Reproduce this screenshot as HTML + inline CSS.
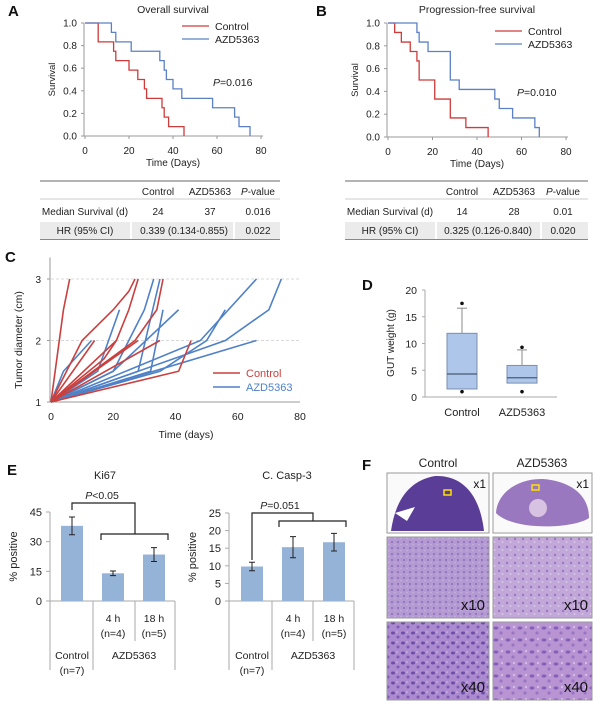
<!DOCTYPE html>
<html><head><meta charset="utf-8"><style>
html,body{margin:0;padding:0;background:#fff}
svg{display:block;font-family:"Liberation Sans",sans-serif}
</style></head><body>
<svg id="fig" width="600" height="711" viewBox="0 0 600 711" xmlns="http://www.w3.org/2000/svg">
<defs>
<pattern id="tex10a" width="6" height="6" patternUnits="userSpaceOnUse"><rect width="6" height="6" fill="#b49ad2"/><circle cx="2" cy="2" r="1" fill="#8e6cbb"/><circle cx="5" cy="4.5" r="0.8" fill="#c9b4e0"/></pattern>
<pattern id="tex10b" width="8" height="8" patternUnits="userSpaceOnUse"><rect width="8" height="8" fill="#c2a8d9"/><circle cx="3" cy="3" r="1.2" fill="#9a78c2"/><circle cx="6.5" cy="6" r="0.9" fill="#dccbea"/></pattern>
<pattern id="tex40a" width="10" height="10" patternUnits="userSpaceOnUse"><rect width="10" height="10" fill="#ab8ad0"/><ellipse cx="3" cy="3" rx="2" ry="1.5" fill="#6c4ea8"/><circle cx="8" cy="7" r="1.5" fill="#7b5cb2"/><circle cx="7" cy="2" r="0.8" fill="#d3c0e8"/></pattern>
<pattern id="tex40b" width="12" height="12" patternUnits="userSpaceOnUse"><rect width="12" height="12" fill="#b895d2"/><ellipse cx="4" cy="4" rx="2.5" ry="1.6" fill="#8660b8"/><circle cx="9" cy="9" r="1.6" fill="#9a74c4"/><circle cx="10" cy="3" r="1" fill="#dcc8ec"/></pattern>
</defs>
<g id="root"></g>
</svg>
<script>
// ---------- Data ----------
const kmA_control = [[6,0.833],[13,0.75],[14,0.667],[20,0.583],[24,0.5],[27,0.417],[28,0.333],[35,0.25],[36,0.167],[38,0.083],[45,0]];
const kmA_azd = [[12,0.917],[14,0.833],[21,0.75],[34,0.667],[36,0.583],[37,0.5],[40,0.417],[44,0.333],[58,0.25],[68,0.167],[70,0.083],[75,0]];
const kmB_control = [[3,0.917],[6,0.833],[10,0.75],[13,0.667],[14,0.5],[21,0.333],[28,0.167],[35,0.083],[45,0]];
const kmB_azd = [[13,0.917],[14,0.833],[18,0.75],[28,0.5],[32,0.417],[48,0.333],[50,0.25],[56,0.167],[66,0.083],[68,0]];
const kmXTicks = [0,20,40,60,80];
const kmYTicks = [0,0.2,0.4,0.6,0.8,1.0];
const tableA = [["Median Survival (d)","24","37","0.016"],["HR (95% CI)","0.339 (0.134-0.855)","","0.022"]];
const tableB = [["Median Survival (d)","14","28","0.01"],["HR (95% CI)","0.325 (0.126-0.840)","","0.020"]];

const growthControl = [
 [[0,1],[4,2.5],[6,3]],
 [[0,1],[10,2],[20,2.5],[25,2.8],[27,3]],
 [[0,1],[21,2],[25,2.5],[28,3]],
 [[0,1],[27,2],[34,2.5],[36,3]],
 [[0,1],[14,2]],
 [[0,1],[17,1.7],[21,2]],
 [[0,1],[35,2]],
 [[0,1],[41,1.5],[45,2]],
 [[0,1],[28,2]]
];
const growthAzd = [
 [[0,1],[4,1.5],[13,2]],
 [[0,1],[15,1.5],[22,2.5]],
 [[0,1],[20,1.5],[30,2.5],[33,3]],
 [[0,1],[28,1.5],[35,3]],
 [[0,1],[32,1.5],[36,2.5]],
 [[0,1],[20,1.5],[41,2.5]],
 [[0,1],[35,1.5],[50,2],[56,2.5]],
 [[0,1],[48,2],[66,3]],
 [[0,1],[56,2],[70,2.5],[74,3]],
 [[0,1],[66,2]]
];
const growthXTicks = [0,20,40,60,80];
const growthYTicks = [1,2,3];

const boxCategories = ["Control","AZD5363"];
const boxLowWhisker = [1.5,2.6];
const boxQ1 = [1.5,2.6];
const boxMedian = [4.3,3.6];
const boxQ3 = [11.9,5.9];
const boxHighWhisker = [16.6,8.8];
const boxOutliers = [[17.5,1.0],[9.3,1.0]];
const boxYTicks = [0,5,10,15,20];

const barGroups = ["Control","4 h","18 h"];
const ki67Values = [38,14,23.5];
const ki67Err = [4.5,1.2,3.5];
const ki67Ticks = [0,15,30,45];
const caspValues = [9.8,15.3,16.7];
const caspErr = [1.2,3.0,2.5];
const caspTicks = [0,5,10,15,20,25];

// ---------- Helpers ----------
const NS="http://www.w3.org/2000/svg";
const root=document.getElementById('root');
function mk(tag,attrs,parent){const e=document.createElementNS(NS,tag);for(const k in attrs)e.setAttribute(k,attrs[k]);(parent||root).appendChild(e);return e;}
function txt(x,y,s,size,anchor,parent,extra){const e=mk('text',Object.assign({x:x,y:y,'font-size':size||10,'text-anchor':anchor||'middle',fill:'#222'},extra||{}),parent);e.textContent=s;return e;}
function grp(name){const g=mk('g',{});return g;}
const RED="#cf3a3a",BLUE="#5b80c6",BAR="#95b3d7";

// ---------- KM panel ----------
function kmPanel(letter,title,x0,x1,yTop,yBot,ctrl,azd,pval,legX,legY,pX,pY,table,tX0,tX1,cols,name){
 const g=grp(name);
 const sx=v=>x0+(x1-x0)*v/80, sy=v=>yBot-(yBot-yTop)*v;
 const L=mk('text',{x:letter==='A'?8:316,y:16,'font-size':15,'font-weight':'bold',fill:'#111'},g);L.textContent=letter;
 
 const t=txt((x0+x1)/2,13,title,10.5,'middle',g);
 const ax=mk('path',{d:`M${x0-1},${yTop}V${yBot}H${x1+2}`,stroke:'#999',fill:'none','stroke-width':1},g);
 
 kmYTicks.forEach(v=>{mk('line',{x1:x0-4,x2:x0-1,y1:sy(v),y2:sy(v),stroke:'#999'},g);
  const e=txt(x0-8,sy(v)+3.5,v.toFixed(1),10,'end',g);});
 kmXTicks.forEach(v=>{mk('line',{x1:sx(v),x2:sx(v),y1:yBot,y2:yBot+3,stroke:'#999'},g);
  const e=txt(sx(v),yBot+18,String(v),10,'middle',g);});
 const xt=txt((x0+x1)/2,yBot+30,'Time (Days)',10,'middle',g);
 const yt=txt(0,0,'Survival',9.5,'middle',g,{transform:`translate(${x0-30},${(yTop+yBot)/2}) rotate(-90)`});
 function step(data,color,nm){let d=`M${sx(0)},${sy(1)}`;data.forEach(p=>{d+=`H${sx(p[0])}V${sy(p[1])}`;});
  const p=mk('path',{d:d,stroke:color,fill:'none','stroke-width':1.3},g);}
 step(ctrl,RED,'control-curve');step(azd,BLUE,'azd5363-curve');
 [["Control",RED],["AZD5363",BLUE]].forEach((it,i)=>{const lg=mk('g',{},g);
  mk('line',{x1:legX,x2:legX+27,y1:legY+i*13,y2:legY+i*13,stroke:it[1],'stroke-width':1.3},lg);txt(legX+33,legY+i*13+4,it[0],10.5,'start',lg);});
 const pt=mk('text',{x:pX,y:pY,'font-size':10.5,fill:'#222'},g);
 pt.innerHTML=`<tspan font-style="italic">P</tspan>=${pval}`;
 // table
 const tb=grp('summary-table-'+letter.toLowerCase());
 mk('line',{x1:tX0,x2:tX1,y1:181,y2:181,stroke:'#888','stroke-width':1.2},tb);
 mk('line',{x1:tX0,x2:tX1,y1:199,y2:199,stroke:'#bbb','stroke-width':0.8},tb);
 mk('rect',{x:tX0,y:222,width:tX1-tX0,height:17,fill:'#ebebeb'},tb);
 mk('line',{x1:cols[4],x2:cols[4],y1:222,y2:239,stroke:'#fff','stroke-width':2},tb);
 mk('line',{x1:cols[5],x2:cols[5],y1:222,y2:239,stroke:'#fff','stroke-width':2},tb);
 mk('line',{x1:tX0,x2:tX1,y1:239.5,y2:239.5,stroke:'#888','stroke-width':1},tb);
 txt(cols[1],195,'Control',10,'middle',tb);txt(cols[2],195,'AZD5363',10,'middle',tb);
 const ph=mk('text',{x:cols[3],y:195,'font-size':10,'text-anchor':'middle',fill:'#222'},tb);ph.innerHTML='<tspan font-style="italic">P</tspan>-value';
 txt(cols[0],215,table[0][0],10,'middle',tb);txt(cols[1],215,table[0][1],10,'middle',tb);txt(cols[2],215,table[0][2],10,'middle',tb);txt(cols[3],215,table[0][3],10,'middle',tb);
 txt(cols[0],234,table[1][0],10,'middle',tb);txt((cols[1]+cols[2])/2,234,table[1][1],10,'middle',tb);txt(cols[3],234,table[1][3],10,'middle',tb);
}
kmPanel('A','Overall survival',85,261,23,136,kmA_control,kmA_azd,'0.016',182,26,213,86,tableA,40,280,[85,158,210,258,131,234],'km-overall-survival');
kmPanel('B','Progression-free survival',388,566,23,137,kmB_control,kmB_azd,'0.010',495,31,517,96,tableB,345,588,[390,462,514,563,436,541],'km-progression-free');

// ---------- Panel C ----------
(function(){
 const g=grp('tumor-growth-chart');
 const x0=51,x1=300,yB=402;const sx=v=>x0+(x1-x0)*v/80, sy=v=>yB-(v-1)*61.5;
 const L=mk('text',{x:5,y:262,'font-size':15,'font-weight':'bold',fill:'#111'},g);L.textContent='C';
 [2,3].forEach(v=>{const l=mk('line',{x1:x0,x2:300,y1:sy(v),y2:sy(v),stroke:'#ccc','stroke-dasharray':'3,2','stroke-width':0.8},g);});
 mk('path',{d:`M${x0-1},${sy(3.35)}V${yB}H${x1}`,stroke:'#999',fill:'none'},g);
 growthYTicks.forEach(v=>{mk('line',{x1:x0-4,x2:x0-1,y1:sy(v),y2:sy(v),stroke:'#999'},g);const e=txt(x0-10,sy(v)+4,String(v),10,'end',g);});
 growthXTicks.forEach(v=>{const e=txt(sx(v),yB+18,String(v),10.5,'middle',g);});
 const xt=txt(186,438,'Time (days)',10.5,'middle',g);
 const yt=txt(0,0,'Tumor diameter (cm)',10.5,'middle',g,{transform:`translate(22,340) rotate(-90)`});
 function draw(set,color,nm){set.forEach(s=>{const p=mk('polyline',{points:s.map(q=>sx(q[0])+','+sy(q[1])).join(' '),stroke:color,fill:'none','stroke-width':1.6},g);});}
 draw(growthAzd,"#4f81c7",'azd5363-tumor-line');draw(growthControl,"#c9403f",'control-tumor-line');
 [["Control","#c9403f"],["AZD5363","#4f81c7"]].forEach((it,i)=>{const lg=mk('g',{},g);
  mk('line',{x1:213,x2:240,y1:373+i*14,y2:373+i*14,stroke:it[1],'stroke-width':1.6},lg);txt(246,377+i*14,it[0],11,'start',lg,{fill:it[1]});});
})();

// ---------- Panel D ----------
(function(){
 const g=grp('gut-weight-boxplot');
 const x0=425,x1=557,yB=397,yT=290;const sy=v=>yB-(yB-yT)*v/20;const cx=[462,522];
 const L=mk('text',{x:362,y:290,'font-size':15,'font-weight':'bold',fill:'#111'},g);L.textContent='D';
 mk('path',{d:`M${x0},${yT}V${yB}H${x1}`,stroke:'#aaa',fill:'none'},g);
 boxYTicks.forEach(v=>{mk('line',{x1:x0-3,x2:x0,y1:sy(v),y2:sy(v),stroke:'#aaa'},g);const e=txt(x0-8,sy(v)+4,String(v),10.5,'end',g);});
 const yt=txt(0,0,'GUT weight (g)',10,'middle',g,{transform:`translate(394,343) rotate(-90)`});
 boxCategories.forEach((c,i)=>{const b=mk('g',{},g);
  mk('line',{x1:cx[i],x2:cx[i],y1:sy(boxQ3[i]),y2:sy(boxHighWhisker[i]),stroke:'#888'},b);
  mk('line',{x1:cx[i]-5,x2:cx[i]+5,y1:sy(boxHighWhisker[i]),y2:sy(boxHighWhisker[i]),stroke:'#888'},b);
  mk('line',{x1:cx[i],x2:cx[i],y1:sy(boxQ1[i]),y2:sy(boxLowWhisker[i]),stroke:'#888'},b);
  mk('rect',{x:cx[i]-15,y:sy(boxQ3[i]),width:30,height:sy(boxQ1[i])-sy(boxQ3[i]),fill:'#aec6ea',stroke:'#7a8fb0'},b);
  mk('line',{x1:cx[i]-15,x2:cx[i]+15,y1:sy(boxMedian[i]),y2:sy(boxMedian[i]),stroke:'#4a5a78','stroke-width':1.2},b);
  boxOutliers[i].forEach(o=>mk('circle',{cx:cx[i],cy:sy(o),r:1.8,fill:'#111'},b));
  txt(cx[i],416,c,11,'middle',b);});
})();

// ---------- Panel E ----------
function barChart(name,title,titleX,ax,yT,yB,maxV,ticks,vals,errs,cx,seps,pText,pX,br){
 const g=grp(name);const sy=v=>yB-(yB-yT)*v/maxV;
 const t=txt(titleX,479,title,11,'middle',g);
 mk('line',{x1:ax,x2:ax,y1:yT,y2:670,stroke:'#aaa'},g);
 mk('line',{x1:ax,x2:seps[3],y1:yB,y2:yB,stroke:'#aaa'},g);
 ticks.forEach(v=>{mk('line',{x1:ax-4,x2:ax,y1:sy(v),y2:sy(v),stroke:'#aaa'},g);const e=txt(ax-8,sy(v)+4,String(v),11,'end',g);});
 const yt=txt(0,0,'% positive',11,'middle',g,{transform:`translate(${ax-33},${(yT+yB)/2}) rotate(-90)`});
 vals.forEach((v,i)=>{const b=mk('rect',{x:cx[i]-11,y:sy(v),width:22,height:yB-sy(v),fill:BAR},g);
  const e=mk('path',{d:`M${cx[i]},${sy(v+errs[i])}V${sy(v-errs[i])}M${cx[i]-3},${sy(v+errs[i])}H${cx[i]+3}M${cx[i]-3},${sy(v-errs[i])}H${cx[i]+3}`,stroke:'#222','stroke-width':1,fill:'none'},g);});
 mk('line',{x1:seps[1],x2:seps[1],y1:yB,y2:670,stroke:'#aaa'},g);
 mk('line',{x1:seps[2],x2:seps[2],y1:yB,y2:641,stroke:'#aaa'},g);
 mk('line',{x1:seps[3],x2:seps[3],y1:yB,y2:670,stroke:'#aaa'},g);
 txt(cx[1],622,'4 h',10.5,'middle',g);txt(cx[1],637,'(n=4)',10.5,'middle',g);
 txt(cx[2],622,'18 h',10.5,'middle',g);txt(cx[2],637,'(n=5)',10.5,'middle',g);
 txt(cx[0],659,'Control',10.5,'middle',g);txt(cx[0],674,'(n=7)',10.5,'middle',g);
 txt((seps[1]+seps[3])/2,659,'AZD5363',10.5,'middle',g);
 const bk=mk('path',{d:`M${cx[0]},${br[1]}V${br[0]}H${br[2]}V${br[3]}M${br[4]},${br[3]+6}V${br[3]}H${br[5]}V${br[3]+6}`,stroke:'#222','stroke-width':1.2,fill:'none'},g);
 
 const p=mk('text',{x:pX,y:br[0]-4,'font-size':10.5,'text-anchor':'middle',fill:'#222'},g);p.innerHTML=pText;
}
(function(){const L=mk('text',{x:7,y:475,'font-size':15,'font-weight':'bold',fill:'#111'});L.textContent='E';})();
barChart('ki67-bar-chart','Ki67',105,50,512,601,45,ki67Ticks,ki67Values,ki67Err,[72,113,154],[50,93,135,175],'<tspan font-style="italic">P</tspan>&lt;0.05',102,[503,510,135,534,101,168]);
barChart('casp3-bar-chart','C. Casp-3',287,229,513,601,25,caspTicks,caspValues,caspErr,[252,293,334],[229,272,313,354],'<tspan font-style="italic">P</tspan>=0.051',280,[513,560,313,521,279,346]);

// ---------- Panel F ----------
(function(){
 const g=grp('histology-panel');
 const L=mk('text',{x:362,y:470,'font-size':15,'font-weight':'bold',fill:'#111'},g);L.textContent='F';
 txt(438,467,'Control',12,'middle',g);txt(542,467,'AZD5363',12,'middle',g);
 const cols=[[387,102],[493,99]],rows=[[473,60],[537,81],[622,78]];
 const fills=[[null,null],['url(#tex10a)','url(#tex10b)'],['url(#tex40a)','url(#tex40b)']];
 const mags=['x1','x10','x40'];
 rows.forEach((r,ri)=>cols.forEach((c,ci)=>{const im=mk('g',{},g);
  mk('rect',{x:c[0],y:r[0],width:c[1],height:r[1],fill:fills[ri][ci]||'#fafafa',stroke:'#999','stroke-width':1},im);
  if(ri===0){
   if(ci===0){mk('path',{d:`M${c[0]+4},${r[0]+58} C${c[0]+8},${r[0]+30} ${c[0]+20},${r[0]+8} ${c[0]+48},${r[0]+3} C${c[0]+70},${r[0]+2} ${c[0]+92},${r[0]+15} ${c[0]+97},${r[0]+58} Z`,fill:'#5a3d96'},im);
    mk('path',{d:`M${c[0]+8},${r[0]+40} L${c[0]+28},${r[0]+34} L${c[0]+20},${r[0]+48} Z`,fill:'#fff'},im);
    mk('rect',{x:c[0]+57,y:r[0]+17,width:7,height:5,fill:'none',stroke:'#ffe000','stroke-width':1.5},im);}
   else{mk('path',{d:`M${c[0]+3},${r[0]+40} C${c[0]+4},${r[0]+20} ${c[0]+25},${r[0]+5} ${c[0]+50},${r[0]+6} C${c[0]+75},${r[0]+8} ${c[0]+96},${r[0]+20} ${c[0]+96},${r[0]+45} C${c[0]+80},${r[0]+56} ${c[0]+20},${r[0]+58} ${c[0]+3},${r[0]+40} Z`,fill:'#9a78bf'},im);
    mk('circle',{cx:c[0]+45,cy:r[0]+35,r:9,fill:'#d8c2e2'},im);
    mk('rect',{x:c[0]+39,y:r[0]+12,width:7,height:5,fill:'none',stroke:'#ffe000','stroke-width':1.5},im);}
  }
  const lx=ri===0?c[0]+c[1]-3:c[0]+c[1]-4,ly=ri===0?r[0]+15:r[0]+r[1]-8;
  txt(lx,ly,mags[ri],ri===0?12:15,'end',im,{fill:'#111'});
 }));
})();
</script>
</body></html>
